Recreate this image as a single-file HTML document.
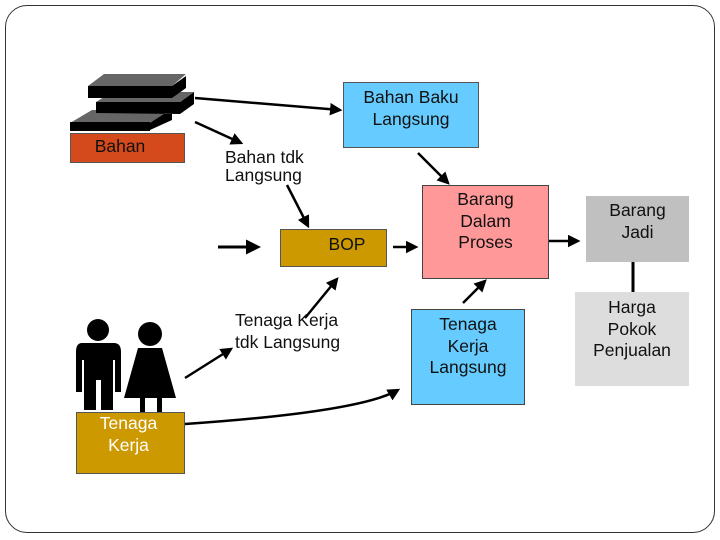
<!DOCTYPE html>
<html><head><meta charset="utf-8"><style>
body{margin:0;width:720px;height:540px;background:#fff;overflow:hidden;font-family:"Liberation Sans",sans-serif}
.b{position:absolute;box-sizing:border-box;text-align:center;font-size:17.5px;line-height:21.5px;color:#111}
.t{position:absolute;font-size:17.5px;line-height:18px;color:#111}
</style></head><body>
<div style="position:absolute;left:5px;top:5px;width:710px;height:528px;border:1px solid #333;border-radius:22px;box-sizing:border-box"></div>
<svg width="720" height="540" style="position:absolute;left:0;top:0">
<defs><marker id="a" markerWidth="5" markerHeight="5" refX="4" refY="2.5" orient="auto" markerUnits="strokeWidth"><path d="M0,0 L5,2.5 L0,5 z" fill="#000"/></marker></defs>
<polygon points="70,130 92,114 172,114 172,120 150,130" fill="#000"/>
<polygon points="70,123 92,110 170,110 150,123" fill="#666"/>
<rect x="70" y="122" width="80" height="9" fill="#000"/>
<polygon points="96,113 96,102 180,102 194,92 194,104 180,114" fill="#000"/>
<polygon points="96,102 112,92 194,92 180,102" fill="#666"/>
<polygon points="88,98 88,86 172,86 186,76 186,88 172,98" fill="#000"/>
<polygon points="88,86 104,74 186,74 172,86" fill="#666"/>
<circle cx="98" cy="330" r="11" fill="#000"/>
<path d="M82,343 H114 Q121,343 121,352 V392 H115 V360 H113 V410 H101 V380 H96 V410 H84 V360 H82 V392 H76 V352 Q76,343 82,343Z" fill="#000"/>
<circle cx="150" cy="334" r="12" fill="#000"/>
<path d="M138,348 H162 L176,398 H162 V412 H157 V398 H145 V412 H140 V398 H124Z" fill="#000"/>
<g stroke="#000" stroke-width="2.5" fill="none" marker-end="url(#a)">
<line x1="195" y1="98" x2="340" y2="110"/>
<line x1="195" y1="122" x2="241" y2="143"/>
<line x1="287" y1="185" x2="308" y2="226"/>
<line x1="218" y1="247" x2="258" y2="247" stroke-width="3"/>
<line x1="393" y1="247" x2="416" y2="247"/>
<line x1="418" y1="153" x2="448" y2="183"/>
<line x1="548" y1="241" x2="578" y2="241"/>
<line x1="463" y1="303" x2="485" y2="281"/>
<line x1="305" y1="318" x2="337" y2="279"/>
<line x1="185" y1="378" x2="231" y2="349"/>
<path d="M185,424 Q360,412 398,390"/>
</g>
<line x1="633" y1="262" x2="633" y2="292" stroke="#000" stroke-width="3"/>
</svg>
<div class="b" style="left:70px;top:133px;width:115px;height:30px;background:#D44A1C;border:1px solid #555;line-height:24px;padding-right:15px">Bahan</div>
<div class="b" style="left:343px;top:82px;width:136px;height:66px;background:#66CCFF;border:1px solid #555;padding-top:4px">Bahan Baku<br>Langsung</div>
<div class="t" style="left:225px;top:148px">Bahan tdk<br>Langsung</div>
<div class="b" style="left:280px;top:229px;width:107px;height:38px;background:#CC9900;border:1px solid #555;padding-top:4px;padding-left:27px">BOP</div>
<div class="b" style="left:422px;top:185px;width:127px;height:94px;background:#FF9999;border:1px solid #444;padding-top:3px">Barang<br>Dalam<br>Proses</div>
<div class="b" style="left:586px;top:196px;width:103px;height:66px;background:#C0C0C0;padding-top:4px">Barang<br>Jadi</div>
<div class="b" style="left:575px;top:292px;width:114px;height:94px;background:#DDDDDD;padding-top:5px">Harga<br>Pokok<br>Penjualan</div>
<div class="b" style="left:411px;top:309px;width:114px;height:96px;background:#66CCFF;border:1px solid #444;padding-top:4px">Tenaga<br>Kerja<br>Langsung</div>
<div class="t" style="left:235px;top:309px;line-height:22px">Tenaga Kerja<br>tdk Langsung</div>
<div class="b" style="left:76px;top:412px;width:109px;height:62px;background:#CC9900;border:1px solid #555;color:#fff;padding-top:0px;padding-right:4px">Tenaga<br>Kerja</div>
</body></html>
